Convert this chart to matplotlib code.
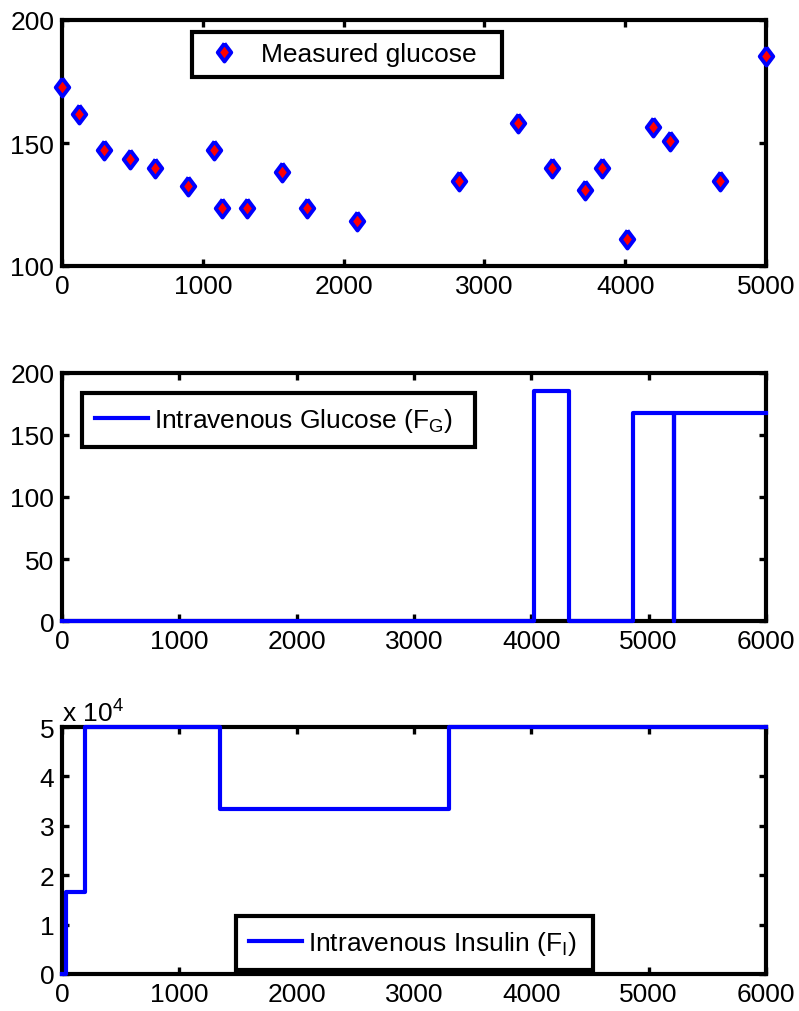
import matplotlib
matplotlib.use('Agg')
import matplotlib.pyplot as plt
from matplotlib.ticker import FuncFormatter

# measured glucose samples
meas_t = [0, 118, 300, 482, 657, 898, 1076, 1137, 1312, 1560, 1738, 2095,
          2818, 3236, 3477, 3716, 3837, 4016, 4197, 4317, 4676, 5000]
meas_g = [172.6, 161.8, 147.3, 143.6, 140, 132.6, 147.3, 123.7, 123.7, 138.2, 123.7, 118.2,
          134.6, 158.3, 140, 131, 140, 111, 156.4, 151, 134.6, 185.2]

# intravenous glucose input (step, held until next time)
fg_t = [0, 4023, 4321, 4864, 5219, 5219, 6000]
fg_v = [0, 185.5, 0, 168, 0, 168, 168]

# intravenous insulin input (step)
fi_t = [0, 30, 196, 1345, 3296, 6000]
fi_v = [0, 16667, 50000, 33333, 50000, 50000]

FS = 19
plt.rcParams['font.family'] = ['Liberation Sans', 'DejaVu Sans']
plt.rcParams['mathtext.fontset'] = 'custom'
plt.rcParams['mathtext.rm'] = 'Liberation Sans'
plt.rcParams['font.size'] = FS

W, H = 799, 1012
fig = plt.figure(figsize=(W / 100, H / 100), dpi=100)

def make_ax(top, bottom, left=62, right=766):
    ax = fig.add_axes([left / W, (H - bottom) / H, (right - left) / W, (bottom - top) / H])
    for s in ax.spines.values():
        s.set_linewidth(3)
    ax.tick_params(direction='in', length=5, width=2.4, top=True, right=True, pad=5.5,
                   labelsize=FS)
    return ax

def style_legend(leg):
    fr = leg.get_frame()
    fr.set_edgecolor('black')
    fr.set_linewidth(3)
    fr.set_boxstyle('square', pad=0)

# top panel: measured glucose
ax1 = make_ax(21, 267)
diamond = [(0, 1), (0.75, 0), (0, -1), (-0.75, 0), (0, 1)]
ax1.plot(meas_t, meas_g, linestyle='none', marker=diamond, markersize=13,
         markerfacecolor='red', markeredgecolor='blue', markeredgewidth=2.8,
         clip_on=False, label='Measured glucose', zorder=5)
ax1.set_xlim(0, 5000)
ax1.set_ylim(100, 200)
ax1.set_xticks(range(0, 5001, 1000))
ax1.set_yticks([100, 150, 200])
leg = ax1.legend(loc='center', bbox_to_anchor=(0.185, 0.772, 0.44, 0.179), mode='expand',
                 fancybox=False, framealpha=1, numpoints=1, handlelength=1.6,
                 handletextpad=0.6, borderaxespad=0, fontsize=FS)
style_legend(leg)

# middle panel: intravenous glucose
ax2 = make_ax(374, 622)
ax2.plot(fg_t, fg_v, color='blue', lw=3, drawstyle='steps-post', clip_on=False, zorder=5,
         label=r'Intravenous Glucose (F$_\mathrm{G}$)')
ax2.set_xlim(0, 6000)
ax2.set_ylim(0, 200)
ax2.set_xticks(range(0, 6001, 1000))
ax2.set_yticks(range(0, 201, 50))
leg = ax2.legend(loc='center', bbox_to_anchor=(0.028, 0.699, 0.558, 0.224), mode='expand',
                 fancybox=False, framealpha=1, handlelength=2.0, handletextpad=0.25,
                 borderpad=0.5, borderaxespad=0, fontsize=FS)
style_legend(leg)

# bottom panel: intravenous insulin
ax3 = make_ax(728, 975)
ax3.plot(fi_t, fi_v, color='blue', lw=3, drawstyle='steps-post', clip_on=False, zorder=5,
         label=r'Intravenous Insulin (F$_\mathrm{I}$)')
ax3.set_xlim(0, 6000)
ax3.set_ylim(0, 50000)
ax3.set_xticks(range(0, 6001, 1000))
ax3.set_yticks(range(0, 50001, 10000))
ax3.yaxis.set_major_formatter(FuncFormatter(lambda v, p: f'{v / 1e4:g}'))
ax3.text(0.0, 1.005, r'x 10$^4$', transform=ax3.transAxes, ha='left', va='bottom', fontsize=FS)
leg = ax3.legend(loc='center', bbox_to_anchor=(0.247, 0.013, 0.507, 0.223), mode='expand',
                 fancybox=False, framealpha=1, handlelength=2.0, handletextpad=0.25,
                 borderpad=0.5, borderaxespad=0, fontsize=FS)
style_legend(leg)

fig.savefig('out.png', dpi=100)
